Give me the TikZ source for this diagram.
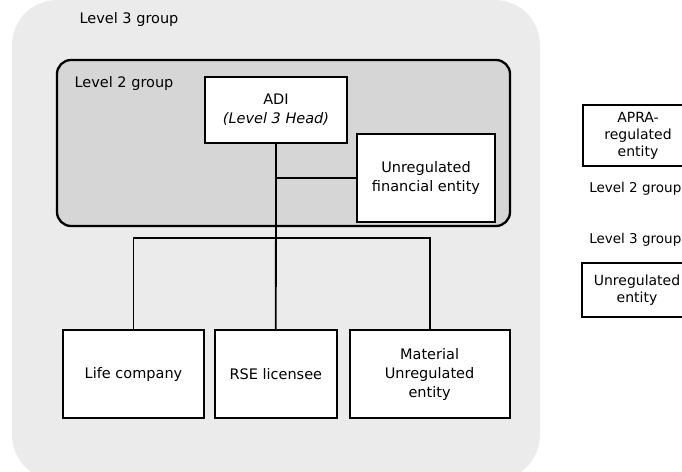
\documentclass[tikz,border=0pt]{standalone}
\usepackage{fontspec}
\setmainfont{DejaVu Sans}
\usepackage{xcolor}
\usetikzlibrary{positioning}

\tikzset{
  entity/.style={draw, line width=1.8pt, fill=white, align=center, inner sep=0pt},
  keybox/.style={entity, minimum width=110pt, font=\fontsize{14}{17}\selectfont},
  link/.style={line width=1.8pt},
  grouplabel/.style={inner sep=0pt}
}

\begin{document}
\begin{tikzpicture}[x=1pt, y=-1pt, font=\fontsize{14.5}{19}\selectfont]
      \useasboundingbox (0,0) rectangle (682,471);
      \fill[black!8, rounded corners=45pt] (12,0) rectangle (540,480);
      \draw[line width=2.3pt, fill=black!16, rounded corners=14pt] (57,60) rectangle (510,226);
      \node[grouplabel] (l3label) at (129,19) {Level 3 group};
      \node[grouplabel] (l2label) at (124,83) {Level 2 group};

      \node[entity, minimum width=142pt, minimum height=66pt] (adi) at (276,110)
        {ADI\\\textit{(Level 3 Head)}};
      \node[entity, minimum width=138pt, minimum height=88pt] (ufe) at (426,178)
        {Unregulated\\financial entity};
      \node[entity, minimum width=141pt, minimum height=88pt] (life) at (133.5,374) {Life company};
      \node[entity, minimum width=122pt, minimum height=88pt, right=9pt of life] (rse) {RSE licensee};
      \node[entity, minimum width=160pt, minimum height=88pt, right=11pt of rse] (material)
        {Material\\Unregulated\\entity};

      \coordinate (bus) at (275,238);
      \draw[link] (adi.south) -- (rse.north);
      \draw[link] (ufe.west) -- (ufe.west -| adi.south);
      \draw[link] (life.north) |- (bus) -| (material.north);

      \node[keybox, minimum height=61pt] (apra) at (638,135.5) {APRA-\\regulated\\entity};
      \node[grouplabel, anchor=east, font=\fontsize{13.5}{16}\selectfont] (key2) at (681.5,189) {Level 2 group};
      \node[grouplabel, anchor=east, font=\fontsize{13.5}{16}\selectfont] (key3) at (681.5,240) {Level 3 group};
      \node[keybox, minimum height=54pt] (unreg) at (637,290) {Unregulated\\entity};
    \end{tikzpicture}
\end{document}
